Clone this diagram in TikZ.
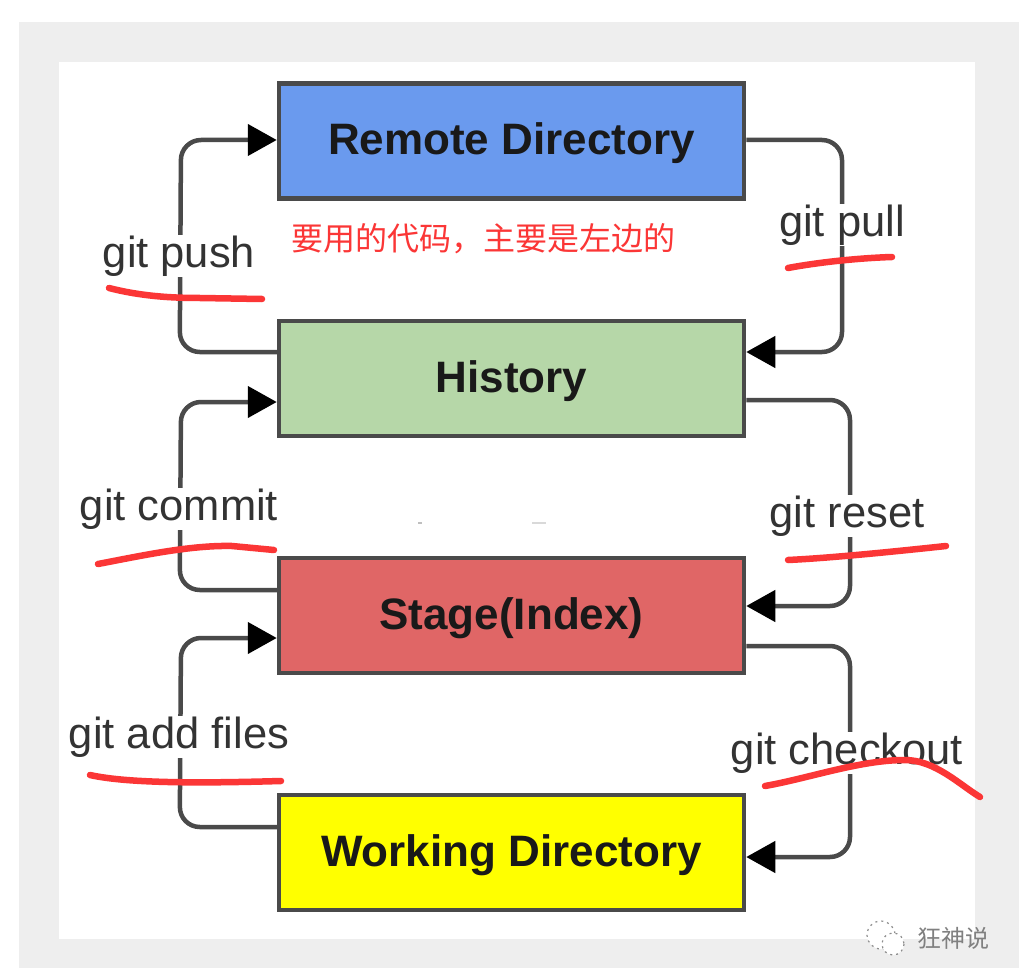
\documentclass[tikz,border=0pt]{standalone}
\usepackage{fontspec}
\setmainfont{Liberation Sans}
\newfontfamily\cjk{Noto Sans CJK SC}
\usetikzlibrary{arrows.meta}
\definecolor{edgeC}{HTML}{4A4A4A}
\definecolor{pageC}{HTML}{EEEEEE}
\definecolor{inkR}{HTML}{FB3636}
\newcommand{\nudged}[1]{\raisebox{-2.5pt}[\height][\depth]{#1}}
\tikzset{
  x=1pt,y=-1pt,
  box/.style={draw=edgeC,line width=4.5pt,minimum width=465pt,minimum height=115pt,inner sep=0pt,font=\fontsize{44}{44}\selectfont\bfseries,text=black!90},
  lab/.style={fill=white,inner sep=1pt,font=\fontsize{43.5}{43.5}\selectfont,text=black!80},
  conn/.style={draw=edgeC,line width=4.5pt,rounded corners=20pt,-{Triangle[length=29pt,width=31pt,color=black]}},
  ink/.style={draw=inkR,line width=6.5pt,line cap=round,line join=round},
}
\begin{document}
\begin{tikzpicture}
\useasboundingbox (0,0) rectangle (1030,968);
\fill[white] (0,0) rectangle (1030,968);
\fill[pageC] (19,22) rectangle (1019,968);
\fill[white] (59,62) rectangle (975,939);

\node[box,fill={rgb,255:red,106;green,154;blue,238}] (remote) at (511.5,141) {\nudged{Remote Directory}};
\node[box,fill={rgb,255:red,182;green,215;blue,168}] (hist) at (511.5,378.5) {\nudged{History}};
\node[box,fill={rgb,255:red,224;green,102;blue,102}] (stage) at (511.5,615.5) {\nudged{Stage(Index)}};
\node[box,fill={rgb,255:red,255;green,255;blue,0}] (work) at (511.5,852.5) {\nudged{Working Directory}};

\draw[conn] ([yshift=26.5pt]hist.west) -- ++(-97,0) -- (181,140) -- ([yshift=1pt]remote.west);
\draw[conn] ([yshift=25.5pt]stage.west) -- ++(-97,0) -- (181,402) -- ([yshift=-23.5pt]hist.west);
\draw[conn] ([yshift=25.5pt]work.west) -- ++(-97,0) -- (181,638) -- ([yshift=-22.5pt]stage.west);
\draw[conn] ([yshift=1pt]remote.east) -- (842,140) -- (842,352) -- ([yshift=26.5pt]hist.east);
\draw[conn] ([yshift=-21.5pt]hist.east) -- (850,400) -- (850,606) -- ([yshift=9.5pt]stage.east);
\draw[conn] ([yshift=-30.5pt]stage.east) -- (850,646) -- (850,857) -- ([yshift=-4.5pt]work.east);

\node[lab] (lpush) at (179,256) {git push};
\node[lab] (lcommit) at (179,509) {git commit};
\node[lab] (ladd) at (179,737) {git add files};
\node[lab] (lpull) at (842,225) {git pull};
\node[lab] (lreset) at (847,516) {git reset};
\node[lab] (lcheck) at (847,753) {git checkout};

\node[text=inkR,inner sep=0pt,font=\cjk\fontsize{32}{32}\selectfont] (note) at (483,239) {要用的代码，主要是左边的};

\draw[ink] (109,288) .. controls (140,296) and (170,298) .. (200,298) -- (262,299);
\draw[ink] (788,268) .. controls (820,262) and (860,258) .. (892,257);
\draw[ink] (98,564) .. controls (140,556) and (190,545) .. (232,546) -- (274,550);
\draw[ink] (788,560) .. controls (830,558) and (890,552) .. (946,546);
\draw[ink] (90,775) .. controls (130,784) and (210,783) .. (281,781);
\draw[ink] (765,786) .. controls (810,778) and (860,760) .. (905,760) .. controls (935,760) and (960,785) .. (980,797);

\fill[black!25] (418,522) rectangle (422,524);
\fill[black!15] (532,522) rectangle (546,524);

% watermark
\fill[white] (881,935) circle (14);
\draw[black!45,line width=1.2pt,dash pattern=on 2pt off 4pt] (881,935) circle (14);
\fill[white] (893,944) circle (11);
\draw[black!45,line width=1.2pt,dash pattern=on 2pt off 4pt] (893,944) circle (11);
\node[text=black!50,inner sep=0pt,font=\cjk\fontsize{24}{24}\selectfont] (mark) at (953,938) {狂神说};
\end{tikzpicture}
\end{document}
